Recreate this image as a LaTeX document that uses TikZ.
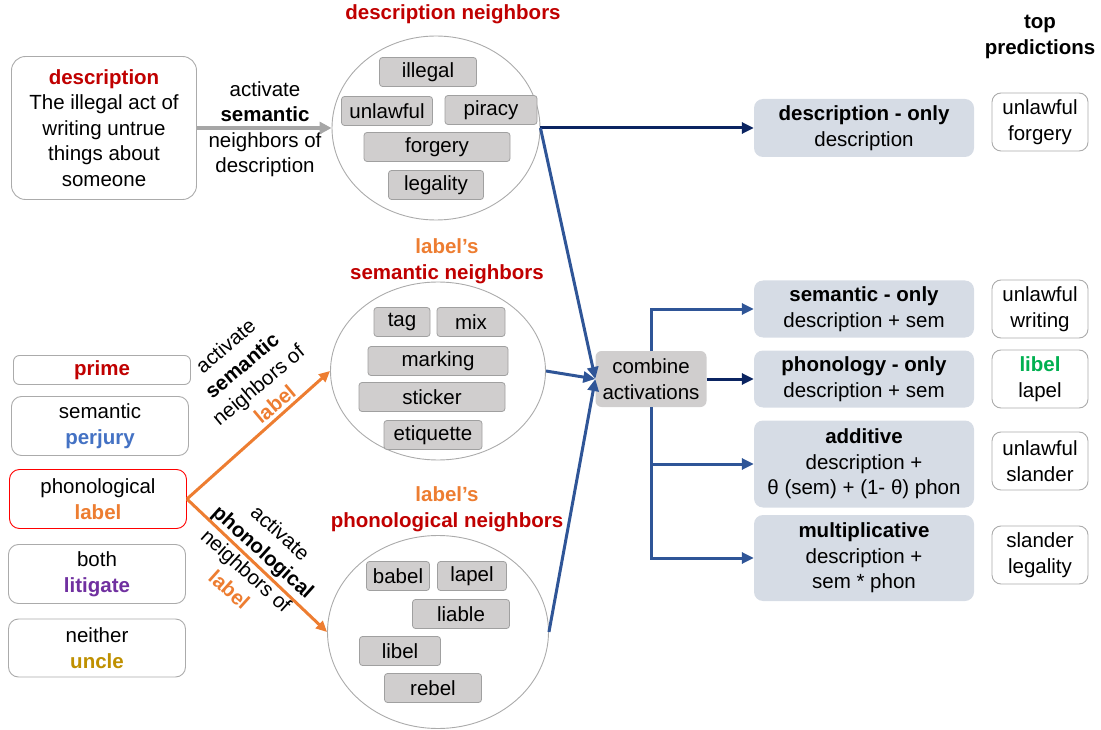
\documentclass[tikz,border=0pt]{standalone}
\usepackage{fontspec}
\setmainfont{Liberation Sans}
\usepackage{tikz}
\usetikzlibrary{arrows.meta,positioning,shapes.geometric,calc}
\definecolor{primered}{HTML}{C00000}
\definecolor{labelorange}{HTML}{ED7D31}
\definecolor{perjblue}{HTML}{4472C4}
\definecolor{litpurple}{HTML}{7030A0}
\definecolor{unclegold}{HTML}{BF9000}
\definecolor{libgreen}{HTML}{00B050}
\definecolor{navyline}{HTML}{0B2461}
\definecolor{blueline}{HTML}{2F5597}
\definecolor{chipgray}{HTML}{D0CECE}
\definecolor{chipedge}{HTML}{A0A0A0}
\definecolor{boxedge}{HTML}{ABABAB}
\definecolor{modelfill}{HTML}{D6DCE5}
\newcommand{\diagfont}{\fontsize{20.5}{25.5}\selectfont}
\tikzset{
  chip/.style={rounded corners=3pt, draw=chipedge, fill=chipgray, line width=0.8pt, minimum height=29pt, inner sep=0pt},
  primebox/.style={rounded corners=10pt, draw=boxedge, fill=white, line width=0.9pt, align=center, minimum width=177pt, minimum height=59pt, inner sep=0pt},
  predbox/.style={rounded corners=9pt, draw=boxedge, fill=white, line width=0.9pt, align=center, minimum width=96pt, minimum height=58pt, inner sep=0pt},
  modelbox/.style={rounded corners=9pt, fill=modelfill, align=center, minimum width=220pt, inner sep=0pt},
  neighcircle/.style={ellipse, draw=boxedge, line width=0.9pt, inner sep=0pt},
  title/.style={font=\diagfont\bfseries, align=center},
  grayedge/.style={-{Triangle[length=12pt,width=12pt]}, line width=4pt, draw=black!35},
  orangeedge/.style={-{Triangle[length=11pt,width=10pt]}, line width=3pt, draw=labelorange},
  navyedge/.style={-{Triangle[length=12pt,width=11pt]}, line width=3pt, draw=navyline},
  blueedge/.style={-{Triangle[length=12pt,width=11pt]}, line width=3pt, draw=blueline}
}

\begin{document}
\begin{tikzpicture}[x=1pt, y=-1pt, font=\diagfont]
  \useasboundingbox (0,0) rectangle (1101,730);

  % neighbour sets
  \node[neighcircle, minimum width=208pt, minimum height=184pt] (topc) at (436,128) {};
  \node[neighcircle, minimum width=215pt, minimum height=178pt] (midc) at (438,371) {};
  \node[neighcircle, minimum width=221pt, minimum height=193pt] (botc) at (438,632) {};

  \node[title, text=primered] (toptitle) at (453,14) {description neighbors};
  \node[title] (midtitle) at (447,261) {\textcolor{labelorange}{label’s}\\\textcolor{primered}{semantic neighbors}};
  \node[title] (bottitle) at (447,509) {\textcolor{labelorange}{label’s}\\\textcolor{primered}{phonological neighbors}};

  \node[chip, minimum width=97pt] (illegal) at (428,72) {illegal};
  \node[chip, minimum width=91pt] (unlawful) at (387,111) {unlawful};
  \node[chip, minimum width=92pt] (piracy) at (491,110) {piracy};
  \node[chip, minimum width=146pt] (forgery) at (437,147) {forgery};
  \node[chip, minimum width=95pt] (legality) at (436,185) {legality};

  \node[chip, minimum width=56pt] (tag) at (402,322) {tag};
  \node[chip, minimum width=68pt] (mix) at (471,322) {mix};
  \node[chip, minimum width=140pt] (marking) at (438,361) {marking};
  \node[chip, minimum width=146pt] (sticker) at (432,397) {sticker};
  \node[chip, minimum width=98pt] (etiquette) at (433,435) {etiquette};

  \node[chip, minimum width=63pt] (babel) at (398,576) {babel};
  \node[chip, minimum width=69pt] (lapel) at (472,576) {lapel};
  \node[chip, minimum width=97pt] (liable) at (461,614) {liable};
  \node[chip, minimum width=81pt] (libel) at (400,651) {libel};
  \node[chip, minimum width=97pt] (rebel) at (433,688) {rebel};

  % description and primes
  \node[primebox, minimum width=185pt, minimum height=143pt, rounded corners=14pt] (desc) at (104,128)
    {\textbf{\textcolor{primered}{description}}\\The illegal act of\\writing untrue\\things about\\someone};
  \node[primebox, minimum height=29pt, rounded corners=6pt] (prime) at (102,370) {\textbf{\textcolor{primered}{prime}}};
  \node[primebox] (semprime) at (100,426) {semantic\\\textbf{\textcolor{perjblue}{perjury}}};
  \node[primebox, draw=red] (phonprime) at (98,499) {phonological\\\textbf{\textcolor{labelorange}{label}}};
  \node[primebox] (bothprime) at (97,574) {both\\\textbf{\textcolor{litpurple}{litigate}}};
  \node[primebox, minimum height=58pt] (neitherprime) at (97,648) {neither\\\textbf{\textcolor{unclegold}{uncle}}};

  \node[align=center] (descact) at (265,129) {activate\\\textbf{semantic}\\neighbors of\\description};
  \node[align=center, rotate=40] (semact) at (250,375) {activate\\\textbf{semantic}\\neighbors of\\\textbf{\textcolor{labelorange}{label}}};
  \node[align=center, rotate=-42] (phonact) at (255,561) {activate\\\textbf{phonological}\\neighbors of\\\textbf{\textcolor{labelorange}{label}}};

  % models and predictions
  \node[modelbox, rounded corners=6pt, minimum width=111pt, minimum height=56pt, fill=chipgray] (combine) at (651,379) {combine\\activations};
  \node[modelbox, minimum height=58pt] (desconly) at (864,128) {\textbf{description - only}\\description};
  \node[modelbox, minimum height=57pt] (semonly) at (864,309) {\textbf{semantic - only}\\description + sem};
  \node[modelbox, minimum height=57pt] (phononly) at (864,379) {\textbf{phonology - only}\\description + sem};
  \node[modelbox, minimum height=87pt] (additive) at (864,464) {\textbf{additive}\\description +\\θ (sem) + (1- θ) phon};
  \node[modelbox, minimum height=86pt] (multi) at (864,558) {\textbf{multiplicative}\\description +\\sem * phon};

  \node[title] (toppred) at (1040,37) {top\\predictions};
  \node[predbox] (pred1) at (1040,122) {unlawful\\forgery};
  \node[predbox] (pred2) at (1040,309) {unlawful\\writing};
  \node[predbox] (pred3) at (1040,379) {\textbf{\textcolor{libgreen}{libel}}\\lapel};
  \node[predbox] (pred4) at (1040,461) {unlawful\\slander};
  \node[predbox] (pred5) at (1040,555) {slander\\legality};

  % connectors
  \draw[grayedge] (desc.east) -- (topc.west);
  \draw[orangeedge] (phonprime.east) -- (midc.west);
  \draw[orangeedge] (phonprime.east) -- (botc.west);
  \draw[navyedge] (topc.east) -- (desconly.west);
  \draw[blueedge] (topc.east) -- (combine.west);
  \draw[blueedge] (midc.east) -- (combine.west);
  \draw[blueedge] (botc.east) -- (combine.west);
  \draw[navyedge] (combine.east) -- (phononly.west);
  \draw[blueedge] (combine.north) |- (semonly.west);
  \draw[blueedge] (combine.south) |- (additive.west);
  \draw[blueedge] (combine.south) |- (multi.west);
\end{tikzpicture}
\end{document}
